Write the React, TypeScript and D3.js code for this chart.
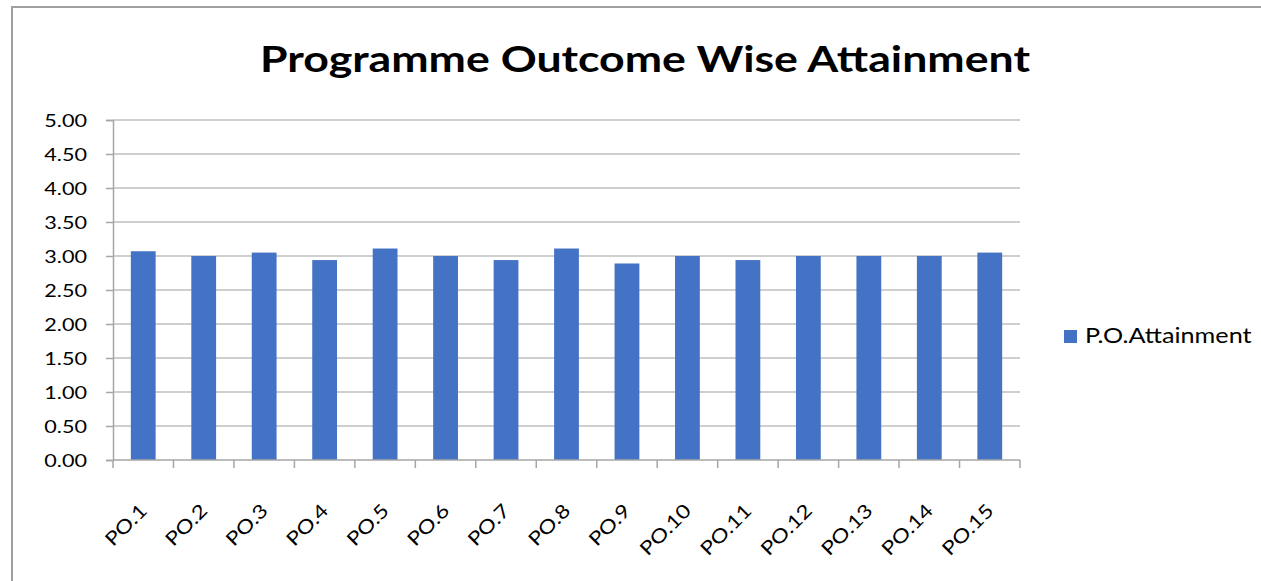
import React, { useEffect, useRef } from "react"
import * as d3 from "d3"

const categories = ["PO.1", "PO.2", "PO.3", "PO.4", "PO.5", "PO.6", "PO.7", "PO.8", "PO.9", "PO.10", "PO.11", "PO.12", "PO.13", "PO.14", "PO.15"]
const attainment = [3.07, 3.0, 3.05, 2.94, 3.11, 3.0, 2.94, 3.11, 2.89, 3.0, 2.94, 3.0, 3.0, 3.0, 3.05]
const yTicks = [0, 0.5, 1, 1.5, 2, 2.5, 3, 3.5, 4, 4.5, 5]
const seriesName = "P.O.Attainment"
const title = "Programme Outcome Wise Attainment"

const FONT = "Lato, 'Open Sans', sans-serif"
// the reference text is wider than Lato, stretch it a bit
const SX = 1.2

const App = () => {
	const svgRef = useRef<SVGSVGElement>(null)

	useEffect(() => {
		const width = 1261
		const height = 581
		const margin = { top: 120, right: 241, bottom: 121, left: 113 }

		const svg = d3.select(svgRef.current)
		svg.selectAll("*").remove()

		// outer chart border
		svg.append("rect")
			.attr("x", 12)
			.attr("y", 7)
			.attr("width", width + 20)
			.attr("height", height + 20)
			.attr("fill", "#fff")
			.attr("stroke", "#a0a0a0")
			.attr("stroke-width", 2)

		const x = d3
			.scaleBand()
			.domain(categories)
			.range([margin.left, width - margin.right])
			.paddingInner(0.59)
			.paddingOuter(0.295)

		const y = d3
			.scaleLinear()
			.domain([0, 5])
			.range([height - margin.bottom, margin.top])

		// gridlines
		svg.append("g")
			.selectAll("line")
			.data(yTicks.slice(1))
			.join("line")
			.attr("x1", margin.left)
			.attr("x2", width - margin.right)
			.attr("y1", (d) => y(d))
			.attr("y2", (d) => y(d))
			.attr("stroke", "#bfbfbf")
			.attr("stroke-width", 1.5)

		// bars
		svg.append("g")
			.selectAll("rect")
			.data(attainment)
			.join("rect")
			.attr("x", (d, i) => x(categories[i]))
			.attr("width", x.bandwidth())
			.attr("y", (d) => y(d))
			.attr("height", (d) => y(0) - y(d))
			.attr("fill", "#4472c4")

		// y axis
		const yAxis = svg.append("g")
			.attr("transform", `translate(${margin.left}, 0)`)
			.call(d3.axisLeft(y).tickValues(yTicks).tickSize(7).tickFormat(() => ""))
		yAxis.select(".domain").attr("stroke", "#a6a6a6").attr("stroke-width", 1.5)
		yAxis.selectAll(".tick line").attr("stroke", "#a6a6a6").attr("stroke-width", 1.5)
		svg.append("g")
			.selectAll("text")
			.data(yTicks)
			.join("text")
			.attr("transform", (d) => `translate(87, ${y(d) + 6.5}) scale(${SX}, 1)`)
			.attr("text-anchor", "end")
			.attr("font-family", FONT)
			.attr("font-size", 18)
			.attr("fill", "#000")
			.text((d) => d3.format(".2f")(d))

		// x axis
		const step = x.step()
		const xAxis = svg.append("g")
			.attr("transform", `translate(0, ${y(0)})`)
		xAxis.append("line")
			.attr("x1", margin.left)
			.attr("x2", width - margin.right)
			.attr("stroke", "#a6a6a6")
			.attr("stroke-width", 1.5)
		xAxis.selectAll(".tk")
			.data(d3.range(categories.length + 1))
			.join("line")
			.attr("class", "tk")
			.attr("x1", (i) => margin.left + i * step)
			.attr("x2", (i) => margin.left + i * step)
			.attr("y1", 0)
			.attr("y2", 8)
			.attr("stroke", "#a6a6a6")
			.attr("stroke-width", 1.5)
		xAxis.selectAll("text")
			.data(categories)
			.join("text")
			.attr("transform", (d) => `translate(${x(d) + x.bandwidth() / 2 + 5}, 52) rotate(-45) scale(${SX}, 1)`)
			.attr("text-anchor", "end")
			.attr("font-family", FONT)
			.attr("font-size", 19)
			.attr("fill", "#000")
			.text((d) => d)

		// title
		svg.append("text")
			.attr("x", 645)
			.attr("y", 72)
			.attr("text-anchor", "middle")
			.attr("font-family", FONT)
			.attr("font-weight", "bold")
			.attr("font-size", 36)
			.attr("textLength", 770)
			.attr("lengthAdjust", "spacingAndGlyphs")
			.attr("fill", "#000")
			.text(title)

		// legend
		const legend = svg.append("g").attr("transform", "translate(1064, 330)")
		legend.append("rect")
			.attr("width", 13)
			.attr("height", 13)
			.attr("fill", "#4472c4")
		legend.append("text")
			.attr("transform", `translate(21, 13) scale(${SX}, 1)`)
			.attr("font-family", FONT)
			.attr("font-size", 21)
			.attr("fill", "#000")
			.text(seriesName)
	}, [])

	return (
		<div style={{ position: "absolute", left: 0, top: 0 }}>
			<svg ref={svgRef} width={1261} height={581} style={{ display: "block" }} />
		</div>
	)
}

export default App
